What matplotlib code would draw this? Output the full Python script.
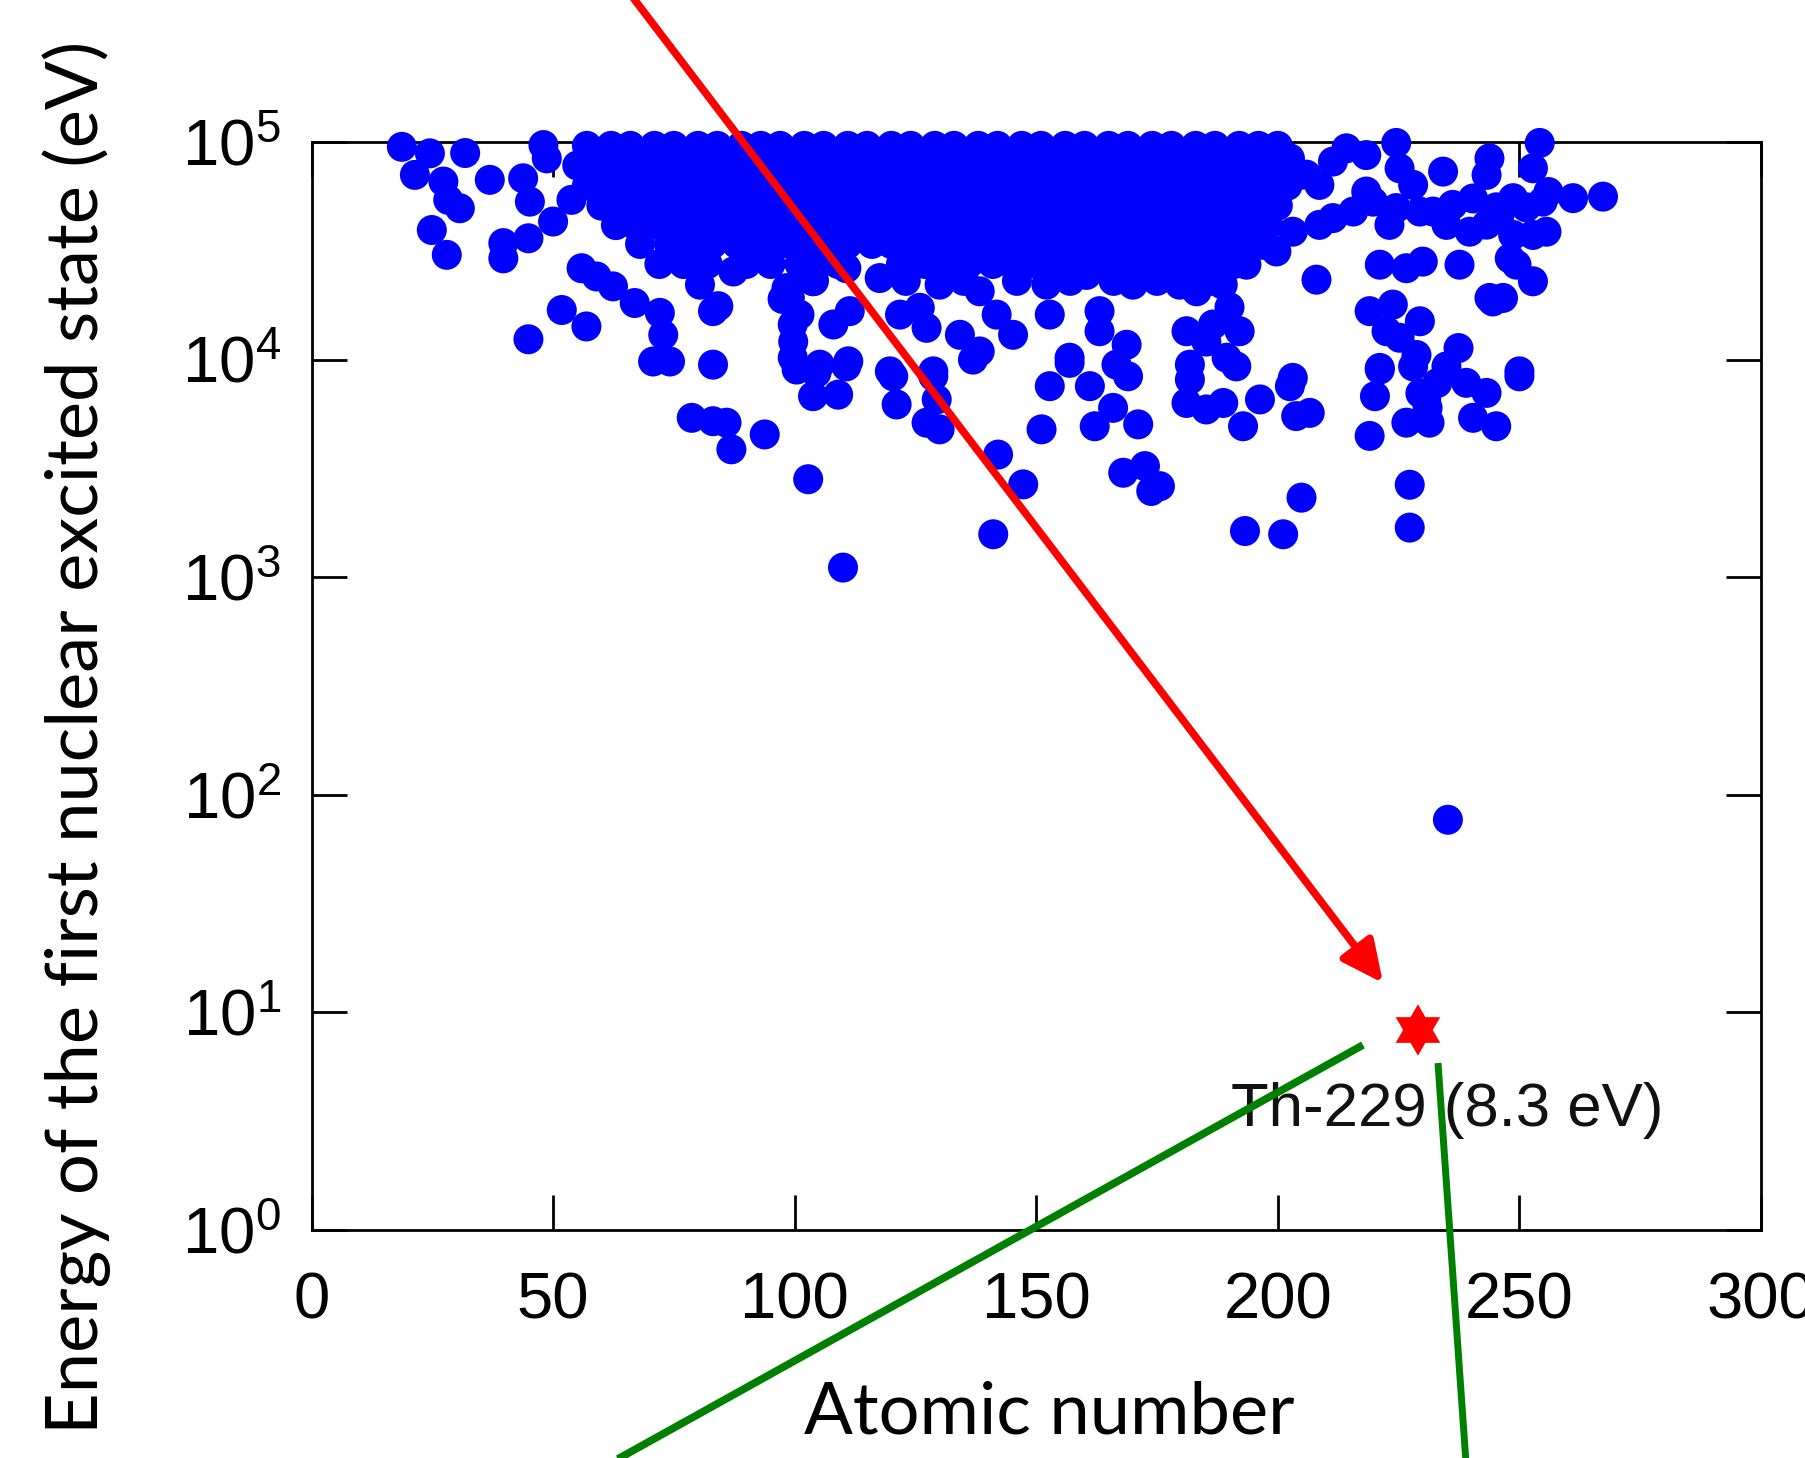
import numpy as np
import matplotlib
matplotlib.use('Agg')
import matplotlib.pyplot as plt
from matplotlib.path import Path
from matplotlib.patches import FancyArrowPatch
from matplotlib.lines import Line2D
from matplotlib.ticker import FixedLocator, NullLocator, FixedFormatter

plt.rcParams['font.family'] = ['Liberation Sans Narrow', 'Liberation Sans', 'DejaVu Sans']

# ---------------- data (atomic number, energy in eV) ----------------
# isolated / sparse points, left part
Z_left = [18.7, 24.5, 21.4, 31.8, 27.3, 30.7, 28.3, 36.9, 24.9, 28.0, 39.7, 39.7, 44.9,
          43.8, 48.0, 48.7, 45.2, 50.0, 53.8, 44.9, 51.8, 56.9, 55.9, 59.0, 62.4, 66.9,
          72.1, 72.8, 70.7, 74.2, 83.1, 84.2, 80.4, 87.3, 98.3, 99.6, 99.6, 97.5, 83.1]
E_left = [95000, 88700, 70600, 89000, 65800, 49600, 54200, 67000, 39400, 30300, 34300, 29200, 36100,
          68100, 96800, 84100, 53200, 43100, 54200, 12400, 16900, 14200, 26300, 24100, 21700, 18200,
          16400, 13000, 9800, 9800, 9480, 17600, 22100, 25400, 21300, 14500, 10200, 19000, 16700]

# lower points (1 keV - 10 keV)
Z_low = [78.7, 83.1, 85.9, 86.9, 93.8, 100.4, 104.5, 110.7, 103.8, 109.0,
         120.4, 121.1, 128.7, 127.3, 130.0, 129.4, 136.9, 142.1, 147.3, 141.1, 102.8, 110.0,
         156.9, 152.8, 161.1, 151.1, 165.9, 169.0, 162.1, 171.1, 168.0, 172.5, 173.8, 175.6,
         181.8, 181.1, 185.2, 188.7, 192.8, 196.3, 202.5, 203.8, 206.6, 191.4, 193.2, 201.1, 204.9,
         221.1, 220.1, 219.0, 227.3, 227.3, 230.7, 226.6, 231.4, 228.0, 234.9, 239.0, 243.2,
         240.4, 245.2, 250.0, 229.5, 231.0, 233.0]
E_low = [5400, 5210, 5130, 3870, 4530, 9000, 8690, 9310, 6790, 6900,
         8380, 6220, 8380, 5130, 4780, 6560, 10000, 3660, 2670, 1575, 2820, 1107,
         9660, 7550, 7550, 4780, 6000, 8380, 4940, 5040, 3020, 3240, 2490, 2620,
         8090, 6320, 5900, 6320, 4940, 6560, 7550, 5500, 5690, 9310, 1630, 1575, 2320,
         9000, 6790, 4460, 2660, 1690, 6560, 5130, 5130, 9310, 9310, 7820, 7030,
         5400, 4940, 8380, 7000, 6000, 7800]

# middle band lower edge (10 keV - 30 keV)
Z_mid = [108.0, 111.4, 101.0, 99.7, 105.2, 111.1, 121.8, 125.9, 127.3, 119.7, 128.7, 134.2,
         138.3, 145.2, 141.8, 152.8, 156.9, 163.1, 163.1, 168.7, 166.6, 170.0, 179.7, 181.1,
         160.4, 152.1, 138.3, 130.0, 117.6, 110.7, 103.8, 99.0]
E_mid = [14500, 16700, 16100, 12100, 9480, 9820, 16100, 17300, 14000, 8830, 8830, 13000,
         10900, 13000, 16100, 16100, 10200, 16700, 13500, 11700, 9480, 22100, 22100, 13500,
         24500, 22100, 20600, 22100, 23700, 26300, 22900, 19200]

# right-hand group
Z_right = [267.3, 261.1, 254.2, 252.8, 243.8, 243.2, 248.7, 254.8, 255.6, 252.8, 248.0, 244.5,
           246.6, 237.6, 239.7, 234.2, 234.9, 229.4, 224.5, 225.2, 228.0, 221.1, 226.6, 230.0,
           223.1, 219.7, 218.3, 214.2, 211.4, 215.6, 208.6, 208.0, 203.1, 199.7, 204.5, 208.6,
           200.4, 219.0, 223.8, 229.4, 222.5, 225.2, 221.1, 228.7, 237.4, 250.0, 243.8, 192.1,
           189.4, 203.1, 183.2, 186.6, 211.4, 218.3, 224.5, 232.1, 236.2, 240.4, 245.2, 251.4,
           256.0, 252.8, 248.7, 245.9, 249.4, 243.2, 205.9, 202.5, 196.9, 193.5, 188.6, 183.8,
           190.0, 185.2, 181.8]
E_right = [56100, 55200, 99000, 75700, 84100, 70600, 55200, 53200, 38700, 22900, 29200, 18500,
           19200, 27300, 38700, 73100, 41600, 47900, 99000, 75700, 63500, 27300, 26300, 28200,
           41600, 53200, 87100, 93500, 81300, 47900, 41600, 23300, 38700, 31400, 70600, 63500,
           84100, 16700, 17900, 15000, 13500, 12600, 9160, 10500, 11300, 8830, 19200, 13500,
           10200, 8240, 20600, 14500, 44700, 59200, 49700, 47900, 51400, 55000, 50100, 50100,
           58900, 37400, 37400, 46200, 27300, 41700, 70800, 84100, 33700, 27300, 22100, 24500,
           17400, 12100, 9480]

# dense core, read row by row (energy of row, atomic numbers in row)
row_96k = [57, 62, 66, 71, 75, 80, 84, 89, 93, 97, 102, 106, 111, 115, 120, 124, 129, 133, 138,
           142, 147, 151, 156, 160, 165, 169, 174, 178, 183, 187, 192, 196, 200]
row_78k = [55, 59, 64, 68, 73, 77, 82, 86, 91, 95, 100, 104, 109, 113, 118, 122, 127, 131, 136,
           140, 145, 149, 154, 158, 163, 167, 172, 176, 181, 185, 190, 194, 199]
row_63k = [57, 62, 66, 71, 75, 80, 84, 89, 93, 98, 102, 107, 111, 116, 120, 125, 129, 134, 138,
           143, 147, 152, 156, 161, 165, 170, 174, 179, 183, 188, 192, 197, 202]
row_51k = [60, 64, 69, 73, 78, 82, 87, 91, 96, 100, 105, 109, 114, 118, 123, 127, 132, 136, 141,
           145, 150, 154, 159, 163, 168, 172, 177, 181, 186, 190, 195, 200]
row_41k = [63, 67, 72, 76, 81, 85, 90, 94, 99, 103, 108, 112, 117, 121, 126, 130, 135, 139, 144,
           148, 153, 157, 162, 166, 171, 175, 180, 184, 189, 193, 198]
row_34k = [68, 74, 78, 83, 88, 93, 97, 102, 106, 111, 116, 120, 125, 129, 134, 138, 143, 147, 152,
           156, 161, 165, 170, 174, 179, 183, 188, 193]
row_27k = [72, 77, 82, 90, 95, 101, 105, 109, 122, 127, 132, 136, 141, 145, 150, 155, 159, 164,
           168, 173, 177, 182, 187, 191]
row_23k = [104, 123, 135, 146, 157, 166, 175, 186]
row_energies = [96000, 78000, 63000, 51000, 41500, 34000, 27500, 23000]
rows = [row_96k, row_78k, row_63k, row_51k, row_41k, row_34k, row_27k, row_23k]

# isolated low-energy isomer (U-235) and Th-229
Z_u235 = [235.2]
E_u235 = [76.8]
Z_th = [229]
E_th = [8.3]
th_label = 'Th-229 (8.3 eV)'

xticks = [0, 50, 100, 150, 200, 250, 300]
yticks = [1e0, 1e1, 1e2, 1e3, 1e4, 1e5]
ytick_labels = [r'$\mathregular{10^{%d}}$' % k for k in range(6)]

# ---------------- figure ----------------
W, H = 1805, 1458
fig = plt.figure(figsize=(W / 100, H / 100), dpi=100)
fig.patch.set_facecolor('white')
ax = fig.add_axes([311.5 / W, 1 - 1230 / H, (1761 - 311.5) / W, (1230 - 142) / H])

blue = '#0000FF'
dot_s = 21.6 ** 2
Z_all = Z_left + Z_low + Z_mid + Z_right + Z_u235
E_all = E_left + E_low + E_mid + E_right + E_u235
for e, r in zip(row_energies, rows):
    Z_all = Z_all + r
    E_all = E_all + [e] * len(r)
ax.scatter(Z_all, E_all, s=dot_s, color=blue, edgecolors='none', zorder=3, clip_on=False)

# hexagram marker
ang = np.deg2rad(90 + 30 * np.arange(12))
rad = np.where(np.arange(12) % 2 == 0, 1.0, 1 / np.sqrt(3))
verts = np.column_stack([rad * np.cos(ang), rad * np.sin(ang)])
verts = np.vstack([verts, verts[:1]])
hexagram = Path(verts, closed=True)
ax.scatter(Z_th, E_th, s=37 ** 2, marker=hexagram, color='#FF0000', edgecolors='none',
           zorder=4, clip_on=False)
ax.text(190.4, 3.0, th_label, fontfamily='Liberation Sans', fontsize=44.5,
        ha='left', va='baseline', color='#111111', zorder=5)

ax.set_xlim(0, 300)
ax.set_yscale('log')
ax.set_ylim(1, 1e5)
ax.xaxis.set_major_locator(FixedLocator(xticks))
ax.set_xticklabels([str(v) for v in xticks])
ax.yaxis.set_major_locator(FixedLocator(yticks))
ax.yaxis.set_major_formatter(FixedFormatter(ytick_labels))
ax.yaxis.set_minor_locator(NullLocator())
ax.xaxis.set_minor_locator(NullLocator())

for sp in ax.spines.values():
    sp.set_linewidth(2)
    sp.set_zorder(2.5)
ax.tick_params(which='major', direction='in', length=25, width=2, top=True, right=True,
               labelsize=47, colors='black')
ax.tick_params(axis='x', pad=30)
ax.tick_params(axis='y', pad=22)

ax.set_xlabel('Atomic number', fontfamily='Lato', fontsize=52)
ax.xaxis.set_label_coords(0.509, -0.138)
ax.set_ylabel('Energy of the first nuclear excited state (eV)', fontfamily='Lato', fontsize=52)
ax.yaxis.set_label_coords(-0.138, 0.453)

# overlay arrow and lines
arrow = FancyArrowPatch((631 / W, 1 + 5 / H), (1383 / W, 1 - 983 / H), transform=fig.transFigure,
                        arrowstyle='-|>,head_length=0.5,head_width=0.24', mutation_scale=50,
                        color='#FF0000', lw=5.5, shrinkA=0, shrinkB=0, zorder=10)
fig.add_artist(arrow)
fig.add_artist(Line2D([1363 / W, 598 / W], [1 - 1045 / H, 1 - 1470 / H], transform=fig.transFigure,
                      color='#008000', lw=5.5, solid_capstyle='butt', zorder=10))
fig.add_artist(Line2D([1438 / W, 1466.5 / W], [1 - 1063 / H, 1 - 1470 / H], transform=fig.transFigure,
                      color='#008000', lw=5.0, solid_capstyle='butt', zorder=10))

fig.savefig('out.png', dpi=100, facecolor='white')
